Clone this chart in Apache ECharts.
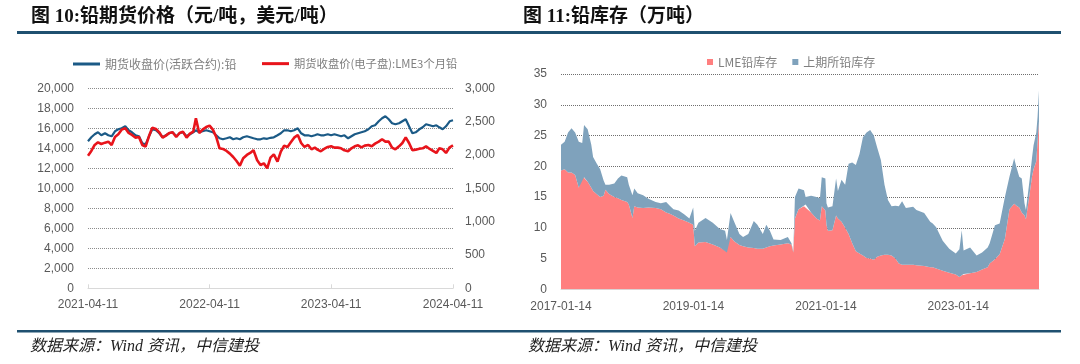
<!DOCTYPE html>
<html><head><meta charset="utf-8">
<script src="https://cdn.jsdelivr.net/npm/echarts@6/dist/echarts.min.js"></script>
<style>html,body{margin:0;padding:0;background:#fff}#c{width:1080px;height:364px}</style>
</head><body><div id="c"></div>
<script>
// ---------- Chart 10: lead futures prices ----------
const priceDates = [
'2021-04-11','2021-04-21','2021-05-01','2021-05-11','2021-05-21','2021-06-01','2021-06-11','2021-06-21','2021-07-01','2021-07-11','2021-07-21','2021-08-01','2021-08-11','2021-08-21','2021-09-01','2021-09-11','2021-09-21','2021-10-01','2021-10-11','2021-10-21','2021-11-01','2021-11-11','2021-11-21','2021-12-01','2021-12-11','2021-12-21',
'2022-01-01','2022-01-11','2022-01-21','2022-02-01','2022-02-11','2022-02-21','2022-03-01','2022-03-11','2022-03-21','2022-04-01','2022-04-11','2022-04-21','2022-05-01','2022-05-11','2022-05-21','2022-06-01','2022-06-11','2022-06-21','2022-07-01','2022-07-11','2022-07-21','2022-08-01','2022-08-11','2022-08-21','2022-09-01','2022-09-11','2022-09-21','2022-10-01','2022-10-11','2022-10-21','2022-11-01','2022-11-11','2022-11-21','2022-12-01','2022-12-11','2022-12-21',
'2023-01-01','2023-01-11','2023-01-21','2023-02-01','2023-02-11','2023-02-21','2023-03-01','2023-03-11','2023-03-21','2023-04-01','2023-04-11','2023-04-21','2023-05-01','2023-05-11','2023-05-21','2023-06-01','2023-06-11','2023-06-21','2023-07-01','2023-07-11','2023-07-21','2023-08-01','2023-08-11','2023-08-21','2023-09-01','2023-09-11','2023-09-21','2023-10-01','2023-10-11','2023-10-21','2023-11-01','2023-11-11','2023-11-21','2023-12-01','2023-12-11','2023-12-21',
'2024-01-01','2024-01-11','2024-01-21','2024-02-01','2024-02-11','2024-02-21','2024-03-01','2024-03-11','2024-03-21','2024-04-01','2024-04-11'];
const shfePrice = [
14700,15100,15400,15600,15300,15500,15300,15200,15700,15900,16000,16200,15800,15600,15300,15200,14500,14400,15200,15900,15800,15500,15100,15300,15500,15600,
15200,15500,15600,15200,15400,15600,15800,15600,15700,15800,15700,15600,15300,15000,14900,15000,15100,14900,15000,14900,15100,15200,15100,15000,14900,14900,15000,14950,15050,15100,15300,15500,15800,15800,15700,15800,
16000,15500,15300,15300,15200,15300,15400,15300,15300,15400,15300,15400,15300,15200,15300,15000,15200,15400,15500,15600,15700,15900,16200,16300,16700,17000,17200,16900,16500,16400,16500,16700,16900,16200,15500,15600,
15900,16100,16400,16300,16200,16300,16100,15900,16200,16700,16800];
const lmePrice = [
1990,2060,2150,2190,2165,2185,2200,2150,2270,2310,2380,2400,2330,2300,2260,2270,2150,2125,2280,2410,2390,2340,2260,2290,2330,2340,
2270,2330,2350,2260,2320,2350,2550,2330,2380,2420,2440,2380,2270,2100,2090,2060,2020,1970,1910,1840,1950,2000,2030,2070,1920,1850,1875,1800,1960,2010,1900,2050,2140,2120,2190,2260,
2300,2180,2120,2150,2085,2110,2080,2055,2090,2120,2130,2110,2110,2100,2070,2055,2100,2130,2145,2115,2140,2150,2130,2170,2200,2235,2200,2200,2110,2085,2130,2180,2265,2180,2070,2080,
2095,2100,2130,2090,2060,2030,2100,2085,2030,2115,2145];
const priceXLabels = ['2021-04-11','2022-04-11','2023-04-11','2024-04-11'];
const priceNames = ['期货收盘价(活跃合约):铅','期货收盘价(电子盘):LME3个月铅'];

// ---------- Chart 11: lead inventories ----------
const invDates = [
'2017-01-14','2017-02-03','2017-02-22','2017-03-13','2017-04-02','2017-04-22','2017-05-11','2017-05-21','2017-06-10','2017-06-30',
'2017-07-10','2017-07-29','2017-08-18','2017-09-06','2017-09-16','2017-10-06','2017-11-04','2017-11-24','2017-12-13','2018-01-14',
'2018-01-23','2018-02-12','2018-02-22','2018-03-13','2018-04-12','2018-05-11','2018-06-20','2018-07-19','2018-08-17','2018-09-06',
'2018-09-26','2018-10-25','2018-11-24','2018-12-23','2019-01-13','2019-01-22','2019-02-11','2019-03-22','2019-05-01','2019-06-09',
'2019-07-08','2019-07-18','2019-08-07','2019-08-27','2019-09-25','2019-10-15','2019-11-13','2019-12-13','2020-01-02','2020-02-01',
'2020-02-20','2020-03-11','2020-03-31','2020-05-09','2020-06-18','2020-07-08','2020-07-18','2020-07-27','2020-08-16','2020-09-15',
'2020-09-24','2020-10-24','2020-11-23','2020-12-12','2020-12-22','2021-01-11','2021-01-17','2021-01-25','2021-02-19','2021-03-11',
'2021-03-21','2021-04-10','2021-04-30','2021-05-19','2021-06-08','2021-06-28','2021-07-18','2021-08-06','2021-08-26','2021-09-15',
'2021-10-05','2021-10-24','2021-11-13','2021-12-03','2021-12-22','2022-01-11','2022-02-01','2022-02-20','2022-03-10','2022-03-31',
'2022-05-10','2022-05-28','2022-07-10','2022-08-12','2022-08-26','2022-09-14','2022-10-20','2022-11-25','2022-12-31','2023-01-20',
'2023-02-02','2023-02-12','2023-03-20','2023-04-25','2023-05-25','2023-06-25','2023-07-06','2023-08-04','2023-08-30','2023-09-28',
'2023-10-23','2023-11-18','2023-12-01','2023-12-16','2023-12-30','2024-01-14','2024-01-22','2024-02-12','2024-02-25','2024-03-04',
'2024-03-19','2024-03-26','2024-04-03'];
const lmeInv = [
19.3,19.5,19.0,19.0,18.6,16.5,18.4,18.2,17.5,16.5,
16.0,15.5,15.0,15.2,16.2,15.5,15.0,14.8,14.5,14.2,
13.8,11.6,13.5,13.3,13.2,13.3,13.2,13.0,12.5,12.3,
12.0,11.5,11.2,10.8,10.5,7.0,7.6,7.7,7.3,6.8,
6.3,6.0,8.5,7.8,7.2,7.0,6.8,6.7,6.6,6.6,
6.8,7.0,7.1,7.3,7.5,7.3,6.0,11.5,13.0,13.5,
13.8,12.5,11.5,11.2,13.5,12.8,10.5,9.5,9.6,12.0,
11.5,11.0,10.0,9.0,7.5,6.2,5.8,5.5,5.1,5.0,
4.8,5.3,5.5,5.6,5.6,5.5,5.0,4.2,4.0,4.0,
4.0,3.9,3.8,3.6,3.6,3.4,3.0,2.7,2.4,2.0,
2.3,2.5,2.6,2.8,3.2,3.6,4.2,4.9,5.7,8.2,
13.0,13.9,13.6,13.3,12.5,12.0,11.4,15.7,18.4,19.5,
20.8,24.0,27.3];
const shfeInv = [
4.2,4.5,6.5,7.2,6.9,7.5,5.4,8.5,8.5,7.0,
5.5,5.0,4.5,2.5,0.8,1.5,2.2,3.2,4.0,4.0,
3.2,3.7,2.9,2.3,2.1,1.4,1.0,1.0,1.7,1.3,
1.0,1.3,1.0,0.7,2.8,2.5,3.2,3.9,3.5,3.0,
3.2,2.0,3.9,3.2,1.8,1.5,2.2,4.4,3.9,2.4,
3.7,2.5,1.0,0.7,1.0,0.2,0.2,3.5,3.4,2.6,
1.2,2.7,3.5,3.6,4.7,5.2,3.5,3.8,3.9,6.0,
4.5,6.8,7.0,11.4,13.1,14.0,16.2,19.2,20.4,20.9,
20.2,17.7,15.5,11.4,8.9,8.0,8.6,9.3,10.3,9.2,
9.4,9.0,8.6,7.4,7.1,6.7,4.9,3.9,3.4,4.5,
7.3,3.8,4.2,2.7,2.8,3.2,3.3,5.5,5.0,6.8,
5.3,7.4,6.2,5.0,5.5,2.0,1.5,2.3,3.1,3.9,
4.7,4.0,5.0];
const invXLabels = ['2017-01-14','2019-01-14','2021-01-14','2023-01-14'];
const invNames = ['LME铅库存','上期所铅库存'];

const titles = ['图 10:铅期货价格（元/吨，美元/吨）','图 11:铅库存（万吨）'];
const source = '数据来源：Wind 资讯，中信建投';

// ---------- helpers ----------
const toTs = s => { const p = s.split('-').map(Number); return Date.UTC(p[0], p[1] - 1, p[2]); };
const pad = n => String(n).padStart(2, '0');
const fmtDate = v => { const d = new Date(v); return d.getUTCFullYear() + '-' + pad(d.getUTCMonth() + 1) + '-' + pad(d.getUTCDate()); };
const LAB = '#595959';
const SANS = '"Liberation Sans", Arial, "Noto Sans CJK SC", sans-serif';
const CJK = '"Noto Sans CJK SC", sans-serif';
const SERIF = '"Liberation Serif", "Noto Sans CJK SC", serif';

// value axis carrying the date labels (custom label positions)
function labelAxis(grid, labels, maxStr, margin) {
  const cv = labels.map(toTs);
  return {
    type: 'value', gridIndex: grid, position: 'bottom', min: toTs(labels[0]), max: toTs(maxStr), scale: true,
    axisLine: { show: true, onZero: false, lineStyle: { color: '#d9d9d9', width: 1 } },
    axisTick: { show: true, inside: true, length: 4, customValues: cv, lineStyle: { color: '#d9d9d9' } },
    axisLabel: { customValues: cv, formatter: v => fmtDate(v), color: LAB, fontSize: 12, fontFamily: SANS, margin: margin, hideOverlap: false, showMinLabel: true, showMaxLabel: true },
    splitLine: { show: false }
  };
}

const chart = echarts.init(document.getElementById('c'), null, { renderer: 'canvas' });
chart.setOption({
  animation: false,
  backgroundColor: '#ffffff',
  grid: [
    { left: 88, right: 627, top: 88.3, bottom: 75.7, containLabel: false, outerBoundsMode: 'none' },
    { left: 561, right: 41, top: 74, bottom: 74.7, containLabel: false, outerBoundsMode: 'none' }
  ],
  legend: [
    { data: [priceNames[0]], left: 73, top: 58, padding: 0, icon: 'rect', itemWidth: 27, itemHeight: 3,
      textStyle: { color: '#7f7f7f', fontSize: 12, fontFamily: CJK } },
    { data: [priceNames[1]], left: 262, top: 58, padding: 0, icon: 'rect', itemWidth: 27, itemHeight: 3,
      textStyle: { color: '#7f7f7f', fontSize: 11.3, fontFamily: CJK } },
    { data: invNames, left: 707, top: 56, padding: 0, icon: 'rect', itemWidth: 6, itemHeight: 6, itemGap: 15,
      textStyle: { color: '#7f7f7f', fontSize: 12, fontFamily: CJK } }
  ],
  xAxis: [
    labelAxis(0, priceXLabels, priceXLabels[3], 10),
    { type: 'time', gridIndex: 1, position: 'bottom', min: toTs(invXLabels[0]), max: toTs(invDates[invDates.length - 1]),
      axisLine: { show: false }, axisTick: { show: false }, axisLabel: { show: false }, splitLine: { show: false } },
    labelAxis(1, invXLabels, invDates[invDates.length - 1], 11)
  ],
  yAxis: [
    { type: 'value', gridIndex: 0, min: 0, max: 20000, interval: 2000,
      axisLine: { show: false }, axisTick: { show: false },
      axisLabel: { color: LAB, fontSize: 12, fontFamily: SANS, margin: 14 },
      splitLine: { show: true, lineStyle: { type: 'dotted', color: '#8c8c8c', width: 1 } } },
    { type: 'value', gridIndex: 0, position: 'right', min: 0, max: 3000, interval: 500,
      axisLine: { show: false }, axisTick: { show: false },
      axisLabel: { color: LAB, fontSize: 12, fontFamily: SANS, margin: 12 },
      splitLine: { show: false } },
    { type: 'value', gridIndex: 1, min: 0, max: 35, interval: 5,
      axisLine: { show: false }, axisTick: { show: false },
      axisLabel: { color: LAB, fontSize: 12, fontFamily: SANS, margin: 14 },
      splitLine: { show: true, lineStyle: { type: 'dotted', color: '#6f6f6f', width: 1 } } }
  ],
  series: [
    { name: priceNames[0], type: 'line', xAxisIndex: 0, yAxisIndex: 0, symbol: 'none',
      data: priceDates.map((d, i) => [toTs(d), shfePrice[i]]),
      lineStyle: { width: 2.2, color: '#1b5a86' }, itemStyle: { color: '#1b5a86' } },
    { name: priceNames[1], type: 'line', xAxisIndex: 0, yAxisIndex: 1, symbol: 'none',
      data: priceDates.map((d, i) => [toTs(d), lmePrice[i]]),
      lineStyle: { width: 2.6, color: '#e8141b' }, itemStyle: { color: '#e8141b' } },
    { name: invNames[0], type: 'line', xAxisIndex: 1, yAxisIndex: 2, stack: 'inv', symbol: 'none',
      data: invDates.map((d, i) => [toTs(d), lmeInv[i]]),
      lineStyle: { width: 0, color: '#ff7f7f' }, itemStyle: { color: '#ff7f7f' },
      areaStyle: { color: '#ff7f7f', opacity: 1 } },
    { name: invNames[1], type: 'line', xAxisIndex: 1, yAxisIndex: 2, stack: 'inv', symbol: 'none',
      data: invDates.map((d, i) => [toTs(d), shfeInv[i]]),
      lineStyle: { width: 0, color: '#7fa2bc' }, itemStyle: { color: '#7fa2bc' },
      areaStyle: { color: '#7fa2bc', opacity: 1 } }
  ],
  graphic: [
    { type: 'text', x: 31, y: 17, silent: true,
      style: { text: titles[0], fontSize: 19, fontWeight: 'bold', fontFamily: SERIF, fill: '#111', verticalAlign: 'middle' } },
    { type: 'text', x: 523, y: 17, silent: true,
      style: { text: titles[1], fontSize: 19, fontWeight: 'bold', fontFamily: SERIF, fill: '#111', verticalAlign: 'middle' } },
    { type: 'rect', silent: true, shape: { x: 17, y: 31, width: 1044, height: 3 }, style: { fill: '#1f5070' } },
    { type: 'rect', silent: true, shape: { x: 17, y: 330, width: 1044, height: 2.5 }, style: { fill: '#1f5070' } },
    { type: 'text', x: 30, y: 347, silent: true,
      style: { text: source, fontSize: 16, fontStyle: 'italic', fontFamily: SERIF, fill: '#222', verticalAlign: 'middle' } },
    { type: 'text', x: 528, y: 347, silent: true,
      style: { text: source, fontSize: 16, fontStyle: 'italic', fontFamily: SERIF, fill: '#222', verticalAlign: 'middle' } }
  ]
});
</script></body></html>
